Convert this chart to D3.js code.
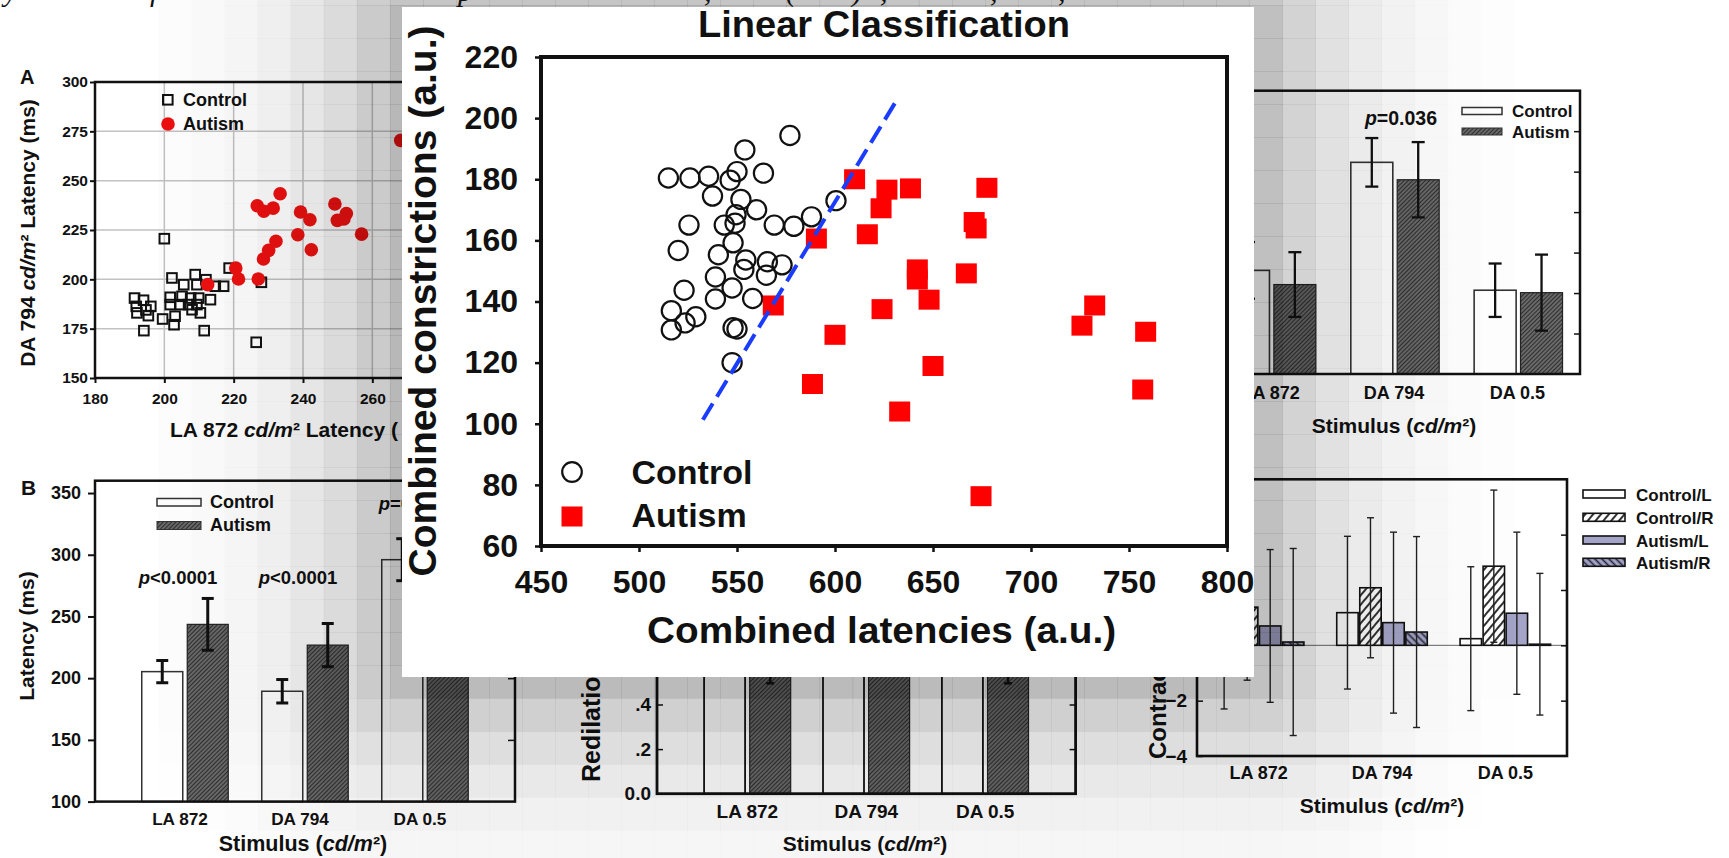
<!DOCTYPE html>
<html><head><meta charset="utf-8">
<script src="https://cdn.jsdelivr.net/npm/d3@7"></script>
<style>
body{margin:0;background:#fff;overflow:hidden}
svg{display:block}
text{font-family:'Liberation Sans',Arial,Helvetica,sans-serif;font-weight:bold;fill:#111}
</style></head>
<body><svg id="chart" width="1729" height="858"></svg>
<script>
// ================= DATA =================
// Central panel: Linear Classification
const lcTitle = "Linear Classification";
const lcXTicks = [450,500,550,600,650,700,750,800];
const lcYTicks = [60,80,100,120,140,160,180,200,220];
const lcControl = [
 [515,180.4],[526,180.4],[535.5,181],[546.5,179.7],[550,182.5],[554,189.6],[563.5,182],[577,194.3],
 [537.5,174.5],[552,173.4],[560,170],[600.5,173],[588,167.7],[569,165],[579,164.6],[525.5,165],
 [543.5,165],[549.5,168.4],[549,165.6],[520,156.7],[548,159.2],[540.5,155.3],[554.5,153.6],[553.5,150.5],
 [565.5,153],[573,152],[565,148.6],[539,148],[547.5,144.4],[523,143.7],[539,140.8],[558,141],
 [516.5,137],[529,135],[523.5,133],[516.5,130.7],[548,131.4],[550,131],[547.5,120]
];
const lcAutism = [
 [610,180],[626.5,176.6],[638.5,177],[677.5,177.2],[623.5,170.5],[590.5,160.6],[616.5,162],[671,166],
 [672,163.9],[667,149.2],[642,150.5],[642,147.2],[648,140.6],[568.5,138.7],[624,137.5],[732.5,138.7],
 [726,132.1],[758.5,130.1],[600,129.1],[650,118.9],[588.5,113],[757,111.2],[633,104],[674.5,76.3]
];
const lcBoundary = [[532.6,101.3],[631.6,206]];
const lcGroups = ["Control","Autism"];

// Panel A (latency scatter)
const aXTicks = [180,200,220,240,260,280,300];
const aYTicks = [150,175,200,225,250,275,300];
const aControl = [
 [191.4,190.5],[191.9,186.3],[192.1,183],[194,189.4],[194.7,184.5],[196.1,186.3],[195.4,181.6],[194.1,174],
 [199.5,179.9],[200,220.6],[202.2,200.7],[201.7,190.9],[201.7,187.2],[202.8,177],[203.1,181.3],[205.6,197.3],
 [205.1,191.4],[204.6,187.2],[207,187.2],[207.6,190.5],[208.9,202.4],[209.4,197.3],[209.9,190.5],[209.4,187.2],
 [210.4,183],[208,184.6],[211.5,174],[212,199.8],[213.3,189.7],[214.7,196.5],[217.1,196.5],[218.7,205.7],
 [228,198.5],[226.5,168.1]
];
const aAutism = [
 [212.5,197.3],[220.6,205.7],[221.4,200.2],[227.1,200.2],[226.8,237.3],[228.7,234.5],[231.4,236.1],[233.4,243.4],
 [228.6,210.3],[230.1,214.7],[232.2,219.3],[238.5,222.6],[239.3,234.1],[242,230.2],[242.4,215],[249.2,238.2],
 [249.9,229.9],[252.5,233.3],[251.8,230.6],[256.9,222.9],[268.2,270.4]
];

// Shared categories
const stimuli = ["LA 872","DA 794","DA 0.5"];

// Panel B (latency bars)
const bYTicks = [100,150,200,250,300,350];
const bControl = [205.3,189.4,296], bControlErr = [9,9.5,17];
const bAutism = [243.6,226.8,338], bAutismErr = [21,17.5,20];
const bPText = ["p<0.0001","p<0.0001","p=0.0002"], bPAt = [276,276,336];

// Panel C (top right bars)
const cYTicks = [1,2,3,4,5,6];
const cControl = [2.56,5.23,2.07], cControlErr = [0.7,0.6,0.66];
const cAutism = [2.21,4.80,2.01], cAutismErr = [0.8,0.93,0.94];
const cPText = ["","p=0.036",""], cPAt = [6.16,6.16,6.16];

// Panel D (redilation bars)
const dYTicks = [0,0.2,0.4,0.6,0.8,1.0];
const dYLabelTicks = [0,0.2,0.4];
const dYLabels = ["0.0",".2",".4"];
const dControl = [0.63,0.60,0.64], dControlErr = [0.06,0.06,0.06];
const dAutism = [0.57,0.59,0.56], dAutismErr = [0.075,0.055,0.065];

// Panel E (contraction L/R bars)
const eSeries = ["Control/L","Control/R","Autism/L","Autism/R"];
const eYTicks = [-4,-2,0,2,4,6];
const eYLabelTicks = [-4,-2];
const eControlL = [0.5,1.18,0.24],  eControlLErr = [2.8,2.76,2.6];
const eControlR = [1.38,2.08,2.86], eControlRErr = [2.64,2.53,2.75];
const eAutismL = [0.7,0.82,1.16],   eAutismLErr = [2.76,3.27,2.93];
const eAutismR = [0.12,0.48,0.04],  eAutismRErr = [3.38,3.45,2.56];

// ================= DRAWING =================
const W = 1729, H = 858;
const FONT = "'Liberation Sans',Arial,Helvetica,sans-serif";
const svg = d3.select("#chart");
const defs = svg.append("defs");
function hatch(id,bg,fg,size,w,angle){
  const p = defs.append("pattern").attr("id",id).attr("patternUnits","userSpaceOnUse")
    .attr("width",size).attr("height",size).attr("patternTransform",`rotate(${angle})`);
  p.append("rect").attr("width",size).attr("height",size).attr("fill",bg);
  p.append("line").attr("x1",size/2).attr("y1",-1).attr("x2",size/2).attr("y2",size+1)
    .attr("stroke",fg).attr("stroke-width",w);
}
hatch("hDark","#7c7c7c","#2e2e2e",3,1.5,45);
hatch("hCtrlR","#ffffff","#1a1a1a",6,1.8,40);
hatch("hAutR","#a4a4c8","#2a2a3a",5,1.7,-45);

function styleAxis(sel,size,sw){
  sel.attr("font-size",null).attr("font-family",null);
  sel.select(".domain").remove();
  sel.selectAll(".tick line").attr("stroke","#111").attr("stroke-width",sw);
  sel.selectAll(".tick text").attr("fill","#111").attr("font-size",size)
    .attr("font-family",FONT).attr("font-weight","bold");
}
function stimLabel(g,x,y,size){
  const t = g.append("text").attr("x",x).attr("y",y).attr("font-size",size).attr("text-anchor","middle");
  t.append("tspan").text("Stimulus (");
  t.append("tspan").attr("font-style","italic").text("cd/m");
  t.append("tspan").text("²)");
  return t;
}
function errBar(g,x,y1,y2,half,sw,col){
  g.append("line").attr("x1",x).attr("x2",x).attr("y1",y1).attr("y2",y2).attr("stroke",col).attr("stroke-width",sw);
  g.append("line").attr("x1",x-half).attr("x2",x+half).attr("y1",y1).attr("y2",y1).attr("stroke",col).attr("stroke-width",sw);
  g.append("line").attr("x1",x-half).attr("x2",x+half).attr("y1",y2).attr("y2",y2).attr("stroke",col).attr("stroke-width",sw);
}

// ---------- Panel A ----------
const gA = svg.append("g");
const ax = d3.scaleLinear().domain([180,300]).range([95,511]);
const ay = d3.scaleLinear().domain([150,300]).range([378,82]);
gA.selectAll("line.gx").data(aXTicks.slice(1,-1)).join("line").attr("class","gx")
  .attr("x1",d=>ax(d)).attr("x2",d=>ax(d)).attr("y1",ay(150)).attr("y2",ay(300))
  .attr("stroke","#c2c2c2").attr("stroke-width",1.5);
gA.selectAll("line.gy").data(aYTicks.slice(1,-1)).join("line").attr("class","gy")
  .attr("y1",d=>ay(d)).attr("y2",d=>ay(d)).attr("x1",ax(180)).attr("x2",ax(300))
  .attr("stroke","#c2c2c2").attr("stroke-width",1.5);
gA.append("rect").attr("x",ax(180)).attr("y",ay(300)).attr("width",ax(300)-ax(180)).attr("height",ay(150)-ay(300))
  .attr("fill","none").attr("stroke","#111").attr("stroke-width",2.5);
gA.append("g").attr("transform",`translate(${ax(180)},0)`)
  .call(d3.axisLeft(ay).tickValues(aYTicks).tickSize(5).tickPadding(2)).call(styleAxis,15.5,2);
gA.append("g").attr("transform",`translate(0,${ay(150)})`)
  .call(d3.axisBottom(ax).tickValues(aXTicks.slice(0,5)).tickSize(5).tickPadding(10)).call(styleAxis,15.5,2);
gA.selectAll("rect.ac").data(aControl).join("rect").attr("class","ac")
  .attr("x",d=>ax(d[0])-4.8).attr("y",d=>ay(d[1])-4.8).attr("width",9.6).attr("height",9.6)
  .attr("fill","none").attr("stroke","#111").attr("stroke-width",2);
gA.selectAll("circle.aa").data(aAutism).join("circle").attr("class","aa")
  .attr("cx",d=>ax(d[0])).attr("cy",d=>ay(d[1])).attr("r",6.8).attr("fill","#ee1111");
gA.append("rect").attr("x",163).attr("y",95).attr("width",9.6).attr("height",9.6)
  .attr("fill","none").attr("stroke","#111").attr("stroke-width",2);
gA.append("circle").attr("cx",168).attr("cy",124).attr("r",6.8).attr("fill","#ee1111");
gA.append("text").attr("x",183).attr("y",106).attr("font-size",18).text(lcGroups[0]);
gA.append("text").attr("x",183).attr("y",130).attr("font-size",18).text(lcGroups[1]);
gA.append("text").attr("x",20).attr("y",84).attr("font-size",20).text("A");
{
  const t = gA.append("text").attr("x",170).attr("y",437).attr("font-size",21);
  t.append("tspan").text("LA 872 "); t.append("tspan").attr("font-style","italic").text("cd/m");
  t.append("tspan").text("² Latency (");
  const t2 = gA.append("text").attr("transform","translate(35,233) rotate(-90)").attr("font-size",21).attr("text-anchor","middle");
  t2.append("tspan").text("DA 794 "); t2.append("tspan").attr("font-style","italic").text("cd/m");
  t2.append("tspan").text("² Latency (ms)");
}

// ---------- Panel B ----------
const gB = svg.append("g");
const bx = d3.scalePoint().domain(stimuli).range([95,515]).padding(0.75);
const by = d3.scaleLinear().domain([100,360]).range([801.6,480.7]);
const bW = 41, bG = 4.5;
gB.selectAll("rect.bc").data(stimuli).join("rect").attr("class","bc")
  .attr("x",d=>bx(d)-bG/2-bW).attr("y",(d,i)=>by(bControl[i])).attr("width",bW)
  .attr("height",(d,i)=>by(100)-by(bControl[i])).attr("fill","#fff").attr("stroke","#333").attr("stroke-width",1.5);
gB.selectAll("rect.ba").data(stimuli).join("rect").attr("class","ba")
  .attr("x",d=>bx(d)+bG/2).attr("y",(d,i)=>by(bAutism[i])).attr("width",bW)
  .attr("height",(d,i)=>by(100)-by(bAutism[i])).attr("fill","url(#hDark)").attr("stroke","#222").attr("stroke-width",1.2);
stimuli.forEach((s,i)=>{
  errBar(gB,bx(s)-bG/2-bW/2,by(bControl[i]+bControlErr[i]),by(bControl[i]-bControlErr[i]),6,3,"#111");
  errBar(gB,bx(s)+bG/2+bW/2,by(bAutism[i]+bAutismErr[i]),by(bAutism[i]-bAutismErr[i]),6,3,"#111");
  const t = gB.append("text").attr("x",bx(s)-7).attr("y",by(bPAt[i])).attr("font-size",18.5).attr("text-anchor","middle");
  t.append("tspan").attr("font-style","italic").text(bPText[i].slice(0,1));
  t.append("tspan").text(bPText[i].slice(1));
  gB.append("text").attr("x",bx(s)-5).attr("y",825).attr("font-size",17.2).attr("text-anchor","middle").text(s);
});
gB.append("rect").attr("x",95).attr("y",by(360)).attr("width",420).attr("height",by(100)-by(360))
  .attr("fill","none").attr("stroke","#111").attr("stroke-width",2.5);
gB.append("g").attr("transform","translate(95,0)")
  .call(d3.axisLeft(by).tickValues(bYTicks).tickSize(7).tickPadding(7)).call(styleAxis,18,2);
gB.append("g").attr("transform","translate(515,0)")
  .call(d3.axisLeft(by).tickValues(bYTicks.slice(1)).tickSize(7).tickFormat("")).call(styleAxis,18,1.5);
gB.append("rect").attr("x",157).attr("y",498.5).attr("width",44).attr("height",7.5).attr("fill","#fff").attr("stroke","#333").attr("stroke-width",1.5);
gB.append("rect").attr("x",157).attr("y",521.5).attr("width",44).attr("height",8).attr("fill","url(#hDark)").attr("stroke","#333").attr("stroke-width",1);
gB.append("text").attr("x",210).attr("y",507.5).attr("font-size",18).text(lcGroups[0]);
gB.append("text").attr("x",210).attr("y",531).attr("font-size",18).text(lcGroups[1]);
gB.append("text").attr("x",21).attr("y",495).attr("font-size",21).text("B");
gB.append("text").attr("transform","translate(34,636) rotate(-90)").attr("font-size",21).attr("text-anchor","middle").text("Latency (ms)");
stimLabel(gB,303,851,21.5);

// ---------- Panel C ----------
const gC = svg.append("g");
const cx = d3.scalePoint().domain(stimuli).range([1210,1580]).padding(0.5);
const cy = d3.scaleLinear().domain([0,7]).range([374,90.7]);
const cW = 42, cG = 4.4;
gC.selectAll("rect.cc").data(stimuli).join("rect").attr("class","cc")
  .attr("x",d=>cx(d)-cG/2-cW).attr("y",(d,i)=>cy(cControl[i])).attr("width",cW)
  .attr("height",(d,i)=>cy(0)-cy(cControl[i])).attr("fill","#fff").attr("stroke","#333").attr("stroke-width",1.6);
gC.selectAll("rect.ca").data(stimuli).join("rect").attr("class","ca")
  .attr("x",d=>cx(d)+cG/2).attr("y",(d,i)=>cy(cAutism[i])).attr("width",cW)
  .attr("height",(d,i)=>cy(0)-cy(cAutism[i])).attr("fill","url(#hDark)").attr("stroke","#222").attr("stroke-width",1.2);
stimuli.forEach((s,i)=>{
  errBar(gC,cx(s)-cG/2-cW/2,cy(cControl[i]+cControlErr[i]),cy(cControl[i]-cControlErr[i]),6.5,2.3,"#111");
  errBar(gC,cx(s)+cG/2+cW/2,cy(cAutism[i]+cAutismErr[i]),cy(cAutism[i]-cAutismErr[i]),6.5,2.3,"#111");
  if(cPText[i]){
    const t = gC.append("text").attr("x",cx(s)+6).attr("y",cy(cPAt[i])).attr("font-size",19.5).attr("text-anchor","middle");
    t.append("tspan").attr("font-style","italic").text(cPText[i].slice(0,1));
    t.append("tspan").text(cPText[i].slice(1));
  }
  gC.append("text").attr("x",cx(s)-1).attr("y",399).attr("font-size",18).attr("text-anchor","middle").text(s);
});
gC.append("rect").attr("x",1210).attr("y",cy(7)).attr("width",370).attr("height",cy(0)-cy(7))
  .attr("fill","none").attr("stroke","#111").attr("stroke-width",2.5);
gC.append("g").attr("transform","translate(1580,0)")
  .call(d3.axisLeft(cy).tickValues(cYTicks).tickSize(6).tickFormat("")).call(styleAxis,16,1.5);
gC.append("rect").attr("x",1462).attr("y",107.5).attr("width",40).attr("height",7).attr("fill","#fff").attr("stroke","#333").attr("stroke-width",1.5);
gC.append("rect").attr("x",1462).attr("y",128).attr("width",40).attr("height",7).attr("fill","url(#hDark)").attr("stroke","#333").attr("stroke-width",1);
gC.append("text").attr("x",1512).attr("y",116.5).attr("font-size",17).text(lcGroups[0]);
gC.append("text").attr("x",1512).attr("y",137.5).attr("font-size",17).text(lcGroups[1]);
stimLabel(gC,1394,433,21);

// ---------- Panel D ----------
const gD = svg.append("g");
const dx = d3.scalePoint().domain(stimuli).range([657,1075.6]).padding(0.76);
const dy = d3.scaleLinear().domain([0,1]).range([793.7,570.7]);
const dW = 41, dG = 4.6;
gD.selectAll("rect.dc").data(stimuli).join("rect").attr("class","dc")
  .attr("x",d=>dx(d)-dG/2-dW).attr("y",(d,i)=>dy(dControl[i])).attr("width",dW)
  .attr("height",(d,i)=>dy(0)-dy(dControl[i])).attr("fill","#fff").attr("stroke","#111").attr("stroke-width",1.8);
gD.selectAll("rect.da").data(stimuli).join("rect").attr("class","da")
  .attr("x",d=>dx(d)+dG/2).attr("y",(d,i)=>dy(dAutism[i])).attr("width",dW)
  .attr("height",(d,i)=>dy(0)-dy(dAutism[i])).attr("fill","url(#hDark)").attr("stroke","#222").attr("stroke-width",1.2);
stimuli.forEach((s,i)=>{
  errBar(gD,dx(s)-dG/2-dW/2,dy(dControl[i]+dControlErr[i]),dy(dControl[i]-dControlErr[i]),4,2.5,"#111");
  errBar(gD,dx(s)+dG/2+dW/2,dy(dAutism[i]+dAutismErr[i]),dy(dAutism[i]-dAutismErr[i]),4,2.5,"#111");
  gD.append("text").attr("x",dx(s)).attr("y",818).attr("font-size",19).attr("text-anchor","middle").text(s);
});
gD.append("rect").attr("x",657).attr("y",dy(1)).attr("width",418.6).attr("height",dy(0)-dy(1))
  .attr("fill","none").attr("stroke","#111").attr("stroke-width",2.8);
gD.append("g").attr("transform","translate(657,0)")
  .call(d3.axisLeft(dy).tickValues(dYTicks).tickSize(-6).tickFormat("")).call(styleAxis,19,1.5);
gD.append("g").attr("transform","translate(657,0)")
  .call(d3.axisLeft(dy).tickValues(dYLabelTicks).tickSize(0).tickPadding(6).tickFormat((d,i)=>dYLabels[i])).call(styleAxis,19,0);
gD.append("g").attr("transform","translate(1075.6,0)")
  .call(d3.axisRight(dy).tickValues(dYTicks.slice(1)).tickSize(-6).tickFormat("")).call(styleAxis,19,1.5);
gD.append("text").attr("transform","translate(600,782) rotate(-90)").attr("font-size",25).text("Redilation");
stimLabel(gD,865,851,21);

// ---------- Panel E ----------
const gE = svg.append("g");
const ex = d3.scaleBand().domain(stimuli).range([1197,1567]);
const exi = d3.scaleBand().domain(eSeries).range([16.4,ex.bandwidth()-16.4]).paddingInner(0.07);
const ey = d3.scaleLinear().domain([-4,6]).range([756,479.3]);
const eVals = [eControlL,eControlR,eAutismL,eAutismR];
const eErrs = [eControlLErr,eControlRErr,eAutismLErr,eAutismRErr];
const eFill = ["#fff","url(#hCtrlR)","#a4a4c8","url(#hAutR)"];
gE.append("line").attr("x1",1197).attr("x2",1567).attr("y1",ey(0)).attr("y2",ey(0)).attr("stroke","#666").attr("stroke-width",1);
eSeries.forEach((ser,k)=>{
  gE.selectAll("rect.e"+k).data(stimuli).join("rect").attr("class","e"+k)
    .attr("x",d=>ex(d)+exi(ser)).attr("width",exi.bandwidth())
    .attr("y",(d,i)=>ey(Math.max(0,eVals[k][i]))).attr("height",(d,i)=>Math.abs(ey(eVals[k][i])-ey(0)))
    .attr("fill",eFill[k]).attr("stroke","#111").attr("stroke-width",1.6);
});
eSeries.forEach((ser,k)=>{
  stimuli.forEach((s,i)=>{
    errBar(gE,ex(s)+exi(ser)+exi.bandwidth()/2,ey(eVals[k][i]+eErrs[k][i]),ey(eVals[k][i]-eErrs[k][i]),3.5,1.4,"#222");
  });
});
gE.append("rect").attr("x",1197).attr("y",ey(6)).attr("width",370).attr("height",ey(-4)-ey(6))
  .attr("fill","none").attr("stroke","#111").attr("stroke-width",2.6);
gE.append("g").attr("transform","translate(1197,0)")
  .call(d3.axisLeft(ey).tickValues(eYTicks).tickSize(-6).tickFormat("")).call(styleAxis,19,1.5);
gE.append("g").attr("transform","translate(1197,0)")
  .call(d3.axisLeft(ey).tickValues(eYLabelTicks).tickSize(0).tickPadding(10)).call(styleAxis,19,0);
gE.append("g").attr("transform","translate(1567,0)")
  .call(d3.axisRight(ey).tickValues(eYTicks.slice(1,-1)).tickSize(-6).tickFormat("")).call(styleAxis,19,1.5);
stimuli.forEach(s=>{
  gE.append("text").attr("x",ex(s)+ex.bandwidth()/2).attr("y",779).attr("font-size",18).attr("text-anchor","middle").text(s);
});
eSeries.forEach((ser,k)=>{
  const yc = [494,517.3,540,562.3][k];
  gE.append("rect").attr("x",1583).attr("y",yc-4).attr("width",42).attr("height",8)
    .attr("fill",eFill[k]).attr("stroke","#111").attr("stroke-width",1.6);
  gE.append("text").attr("x",1636).attr("y",yc+6.5).attr("font-size",17).text(ser);
});
gE.append("text").attr("transform","translate(1166,759) rotate(-90)").attr("font-size",24).text("Contraction");
stimLabel(gE,1382,813,21);

// ---------- Shadow around the central panel ----------
const panel = {x0:402,y0:7,x1:1254,y1:677};
const gS = svg.append("g");
const stepX = 33.06, stepY = 33;
for(let gx = 26.3 - stepX; gx < W; gx += stepX){
  for(let gy = 5 - stepY; gy < H; gy += stepY){
    const ccx = gx + stepX/2, ccy = gy + stepY/2;
    const ddx = Math.max(panel.x0 - ccx, 0, ccx - panel.x1);
    const ddy = Math.max(panel.y0 - ccy, 0, ccy - panel.y1);
    const dist = Math.hypot(ddx, ddy);
    const a = 0.3*Math.exp(-dist/100) - 0.02;
    if(a > 0.003){
      gS.append("rect").attr("x",gx).attr("y",gy).attr("width",stepX+0.3).attr("height",stepY+0.3)
        .attr("fill","#000").attr("fill-opacity",a);
    }
  }
}

// ---------- Cut-off text line at the top ----------
const topFrag = [["y",4],["f",150],["p",458],[",",704],["(",786],[")",852],[",",880],[",",990],[",",1058]];
svg.selectAll("text.frag").data(topFrag).join("text").attr("class","frag")
  .attr("x",d=>d[1]).attr("y",1).attr("font-size",30)
  .style("font-family","'Liberation Serif','Times New Roman',serif").style("font-style","italic").style("font-weight","normal")
  .text(d=>d[0]);

// ---------- Central panel ----------
const gM = svg.append("g");
gM.append("rect").attr("x",panel.x0).attr("y",panel.y0).attr("width",panel.x1-panel.x0).attr("height",panel.y1-panel.y0).attr("fill","#fff");
const x = d3.scaleLinear().domain([450,800]).range([541,1227]);
const y = d3.scaleLinear().domain([60,220]).range([546,57]);
gM.append("g").attr("transform",`translate(${x(450)},0)`)
  .call(d3.axisLeft(y).tickValues(lcYTicks).tickSize(6).tickPadding(17)).call(styleAxis,32,2.5);
gM.append("g").attr("transform",`translate(0,${y(60)})`)
  .call(d3.axisBottom(x).tickValues(lcXTicks).tickSize(6).tickPadding(18)).call(styleAxis,32,2.5);
gM.append("rect").attr("x",x(450)).attr("y",y(220)).attr("width",x(800)-x(450)).attr("height",y(60)-y(220))
  .attr("fill","none").attr("stroke","#111").attr("stroke-width",4);
gM.selectAll("circle.ctl").data(lcControl).join("circle").attr("class","ctl")
  .attr("cx",d=>x(d[0])).attr("cy",d=>y(d[1])).attr("r",9.6)
  .attr("fill","none").attr("stroke","#111").attr("stroke-width",2.2);
gM.selectAll("rect.aut").data(lcAutism).join("rect").attr("class","aut")
  .attr("x",d=>x(d[0])-10.5).attr("y",d=>y(d[1])-10).attr("width",21).attr("height",20).attr("fill","#ff0000");
gM.append("line").attr("x1",x(lcBoundary[0][0])).attr("y1",y(lcBoundary[0][1]))
  .attr("x2",x(lcBoundary[1][0])).attr("y2",y(lcBoundary[1][1]))
  .attr("stroke","#1a3cff").attr("stroke-width",4).attr("stroke-dasharray","19 8");
gM.append("circle").attr("cx",572).attr("cy",472).attr("r",9.8).attr("fill","none").attr("stroke","#111").attr("stroke-width",2.2);
gM.append("rect").attr("x",561.5).attr("y",506.5).attr("width",21).attr("height",20).attr("fill","#ff0000");
gM.append("text").attr("x",631.5).attr("y",483.5).attr("font-size",34).text(lcGroups[0]);
gM.append("text").attr("x",631.5).attr("y",527).attr("font-size",34).text(lcGroups[1]);
gM.append("text").attr("x",884).attr("y",37).attr("font-size",36).attr("text-anchor","middle")
  .attr("textLength",372).attr("lengthAdjust","spacingAndGlyphs").text(lcTitle);
gM.append("text").attr("x",881.6).attr("y",643).attr("font-size",37).attr("text-anchor","middle")
  .attr("textLength",469).attr("lengthAdjust","spacingAndGlyphs").text("Combined latencies (a.u.)");
gM.append("text").attr("transform","translate(436,301) rotate(-90)").attr("font-size",39).attr("text-anchor","middle")
  .attr("textLength",551).attr("lengthAdjust","spacingAndGlyphs").text("Combined constrictions (a.u.)");
</script>
</body></html>
